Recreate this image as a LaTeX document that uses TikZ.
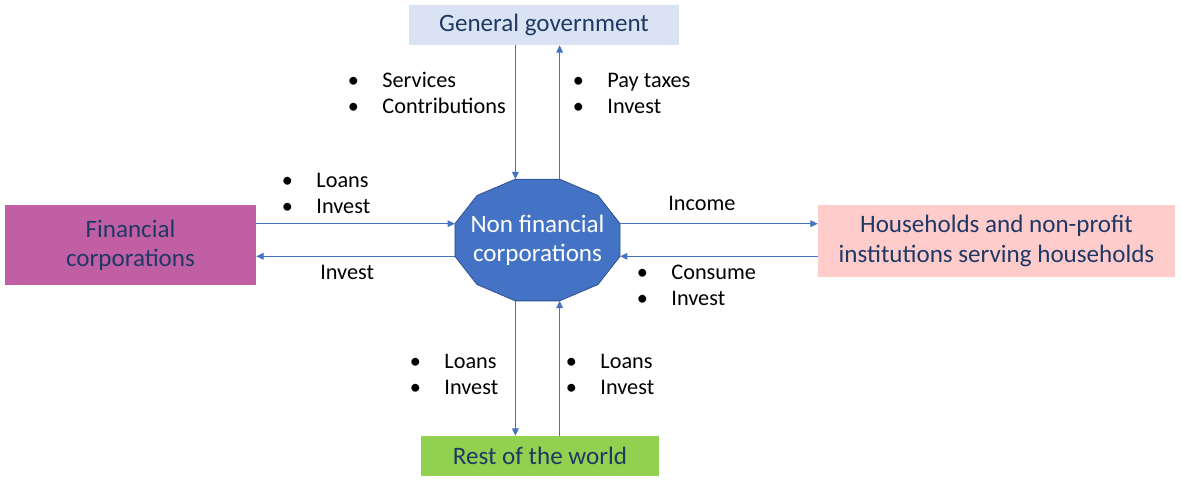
\documentclass[tikz,border=0pt]{standalone}
\usepackage{fontspec}
\setmainfont{Carlito}
\usepackage{tikz}
\usetikzlibrary{calc,arrows.meta}
\definecolor{navy}{HTML}{203864}
\definecolor{govblue}{HTML}{DAE3F3}
\definecolor{finpink}{HTML}{C05FA3}
\definecolor{hhpink}{HTML}{FFCCCC}
\definecolor{rwgreen}{HTML}{92D050}
\definecolor{octblue}{HTML}{4472C4}
\definecolor{octedge}{HTML}{2F528F}
\newcommand{\bul}{\makebox[26pt][l]{\textbullet}}
\begin{document}
\begin{tikzpicture}[x=0.75pt,y=-0.75pt, box/.style={rectangle, inner sep=0pt, align=center, text=navy, font=\fontsize{18.8}{22}\selectfont}, lbl/.style={anchor=west, inner sep=0pt, align=left, font=\fontsize{16.7}{19.5}\selectfont}, flow/.style={draw=octblue, line width=0.8pt, ->}, >={Triangle[length=5.5pt,width=5pt]}]
            \useasboundingbox (0,0) rectangle (1182,480);
            \node[box, fill=govblue, minimum width=202.5pt, minimum height=30pt] (gg) at (544,25) {General government};
            \node[box, fill=finpink, minimum width=188.25pt, minimum height=60pt] (fc) at (130.5,245) {Financial\\corporations};
            \node[box, fill=hhpink, minimum width=267.75pt, minimum height=54pt] (hh) at (996.5,241) {Households and non-profit\\institutions serving households};
            \node[box, fill=rwgreen, minimum width=178.5pt, minimum height=30pt] (rw) at (540,456) {Rest of the world};
            \coordinate (ctr) at (537.5,240);
            \foreach \a in {15,45,...,345} \coordinate (v\a) at ($(ctr)+(\a:85.5 and 63)$);
            \filldraw[fill=octblue, draw=octedge, line width=0.6pt] (v15) \foreach \a in {45,75,...,345} { -- (v\a)} -- cycle;
            \node[box, text=white] (nfc) at (ctr) {Non financial\\corporations};
            \draw[flow] (gg.south -| v255) -- (v255);
            \draw[flow] (v285) -- (gg.south -| v285);
            \draw[flow] (fc.east |- v195) -- (v195);
            \draw[flow] (v165) -- (fc.east |- v165);
            \draw[flow] (v345) -- (hh.west |- v345);
            \draw[flow] (hh.west |- v15) -- (v15);
            \draw[flow] (v105) -- (rw.north -| v105);
            \draw[flow] (rw.north -| v75) -- (v75);
            \node[lbl] (ggin) at (347.5,93) {\bul Services\\\bul Contributions};
            \node[lbl] (ggout) at (572.5,93) {\bul Pay taxes\\\bul Invest};
            \node[lbl] (fcin) at (281.5,193.5) {\bul Loans\\\bul Invest};
            \node[lbl] (fcout) at (320,272) {Invest};
            \node[lbl] (hhin) at (668,203) {Income};
            \node[lbl] (hhout) at (636.5,285) {\bul Consume\\\bul Invest};
            \node[lbl] (rwin) at (409.5,374) {\bul Loans\\\bul Invest};
            \node[lbl] (rwout) at (565.5,374) {\bul Loans\\\bul Invest};
\end{tikzpicture}
\end{document}
